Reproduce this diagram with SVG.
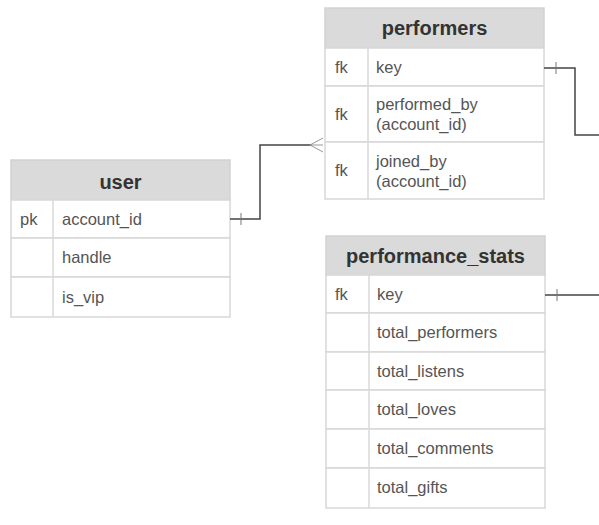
<svg xmlns="http://www.w3.org/2000/svg" width="599" height="525" viewBox="0 0 599 525">
  <style>
    .hdr { fill: #dadada; stroke: #d2d2d2; stroke-width: 1.5; }
    .row { fill: #ffffff; stroke: #d8d8d8; stroke-width: 1.5; }
    .col { stroke: #d8d8d8; stroke-width: 1.5; }
    .title { font-family: "Liberation Sans", Arial, sans-serif; font-size: 20px; font-weight: bold; fill: #333333; text-anchor: middle; }
    .txt { font-family: "Liberation Sans", Arial, sans-serif; font-size: 16.5px; fill: #555555; }
    .link { fill: none; stroke: #444444; stroke-width: 1.5; }
    .tick { fill: none; stroke: #777777; stroke-width: 1; }
    .crow { fill: none; stroke: #999999; stroke-width: 1; }
  </style>
  <rect width="599" height="525" fill="#ffffff"/>

  <!-- performers table -->
  <g id="performers">
    <rect class="hdr" x="325" y="8" width="219" height="40"/>
    <text class="title" x="434.5" y="35">performers</text>
    <rect class="row" x="325" y="48" width="219" height="38"/>
    <rect class="row" x="325" y="86" width="219" height="56"/>
    <rect class="row" x="325" y="142" width="219" height="57"/>
    <line class="col" x1="368" y1="48" x2="368" y2="199"/>
    <text class="txt" x="335" y="73">fk</text>
    <text class="txt" x="376" y="73">key</text>
    <text class="txt" x="335" y="120">fk</text>
    <text class="txt" x="376" y="110">performed_by</text>
    <text class="txt" x="376" y="130">(account_id)</text>
    <text class="txt" x="335" y="176">fk</text>
    <text class="txt" x="376" y="167">joined_by</text>
    <text class="txt" x="376" y="187">(account_id)</text>
  </g>

  <!-- user table -->
  <g id="user">
    <rect class="hdr" x="11" y="160" width="219" height="40"/>
    <text class="title" x="120.5" y="189">user</text>
    <rect class="row" x="11" y="200" width="219" height="38"/>
    <rect class="row" x="11" y="238" width="219" height="39"/>
    <rect class="row" x="11" y="277" width="219" height="40"/>
    <line class="col" x1="53" y1="200" x2="53" y2="317"/>
    <text class="txt" x="20" y="225">pk</text>
    <text class="txt" x="62" y="225">account_id</text>
    <text class="txt" x="62" y="263">handle</text>
    <text class="txt" x="62" y="303">is_vip</text>
  </g>

  <!-- performance_stats table -->
  <g id="performance_stats">
    <rect class="hdr" x="326" y="236" width="219" height="39"/>
    <text class="title" x="435.5" y="263">performance_stats</text>
    <rect class="row" x="326" y="275" width="219" height="38"/>
    <rect class="row" x="326" y="313" width="219" height="39"/>
    <rect class="row" x="326" y="352" width="219" height="38"/>
    <rect class="row" x="326" y="390" width="219" height="39"/>
    <rect class="row" x="326" y="429" width="219" height="39"/>
    <rect class="row" x="326" y="468" width="219" height="40"/>
    <line class="col" x1="369" y1="275" x2="369" y2="508"/>
    <text class="txt" x="335" y="300">fk</text>
    <text class="txt" x="377" y="300">key</text>
    <text class="txt" x="377" y="338">total_performers</text>
    <text class="txt" x="377" y="377">total_listens</text>
    <text class="txt" x="377" y="415">total_loves</text>
    <text class="txt" x="377" y="454">total_comments</text>
    <text class="txt" x="377" y="493">total_gifts</text>
  </g>

  <!-- relationships -->
  <g id="connectors">
    <!-- user.account_id to performers (one to many) -->
    <polyline class="link" points="230,219 260,219 260,145 312,145"/>
    <line class="tick" x1="241" y1="213" x2="241" y2="225"/>
    <line class="crow" x1="310" y1="145" x2="323" y2="138"/>
    <line class="crow" x1="310" y1="145" x2="323" y2="145"/>
    <line class="crow" x1="310" y1="145" x2="323" y2="152"/>
    <!-- performers.key outgoing -->
    <polyline class="link" points="544,68 575,68 575,135 599,135"/>
    <line class="tick" x1="556" y1="62" x2="556" y2="74"/>
    <!-- performance_stats.key outgoing -->
    <line class="link" x1="545" y1="295" x2="599" y2="295"/>
    <line class="tick" x1="557" y1="289" x2="557" y2="301"/>
  </g>
</svg>
